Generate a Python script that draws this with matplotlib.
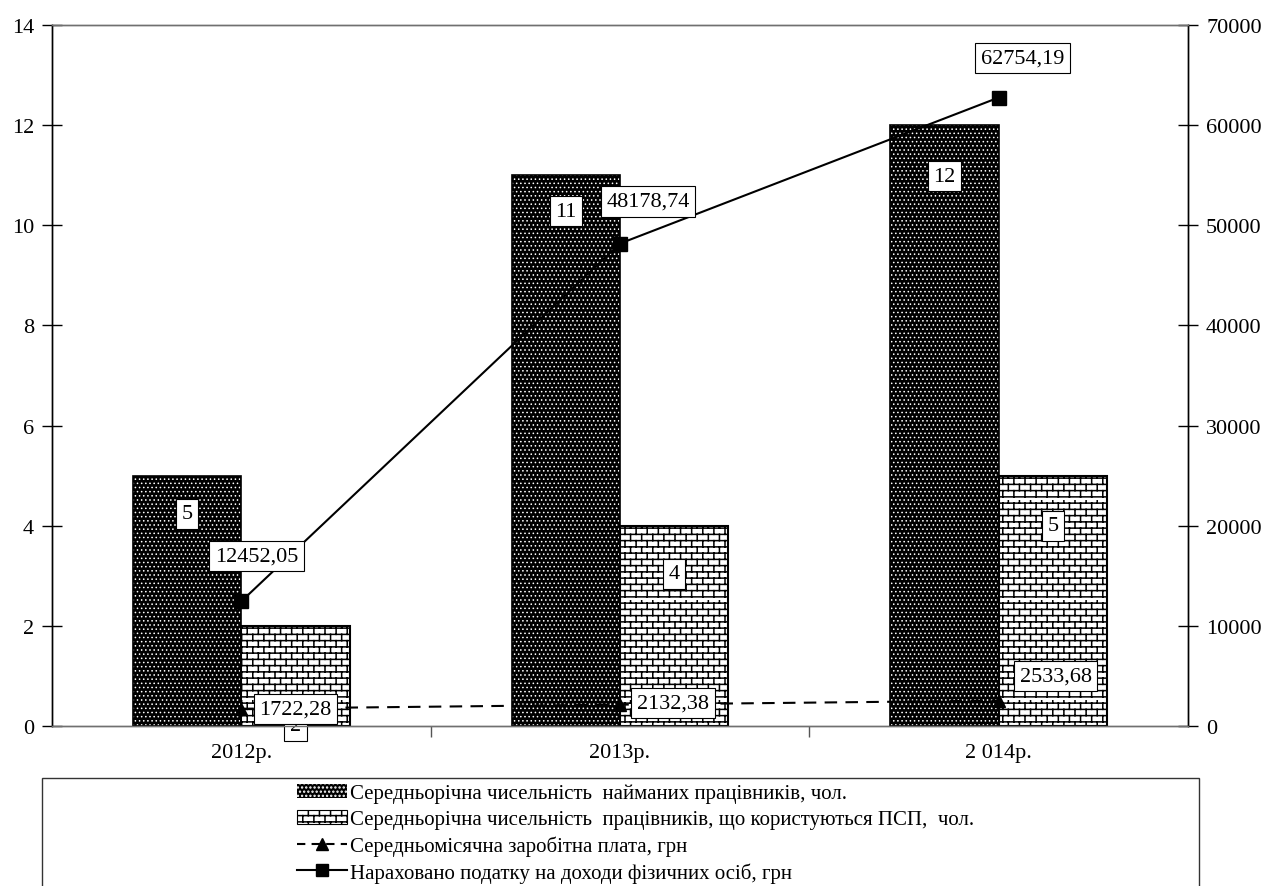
import warnings
warnings.filterwarnings('ignore')
import numpy as np
import matplotlib
matplotlib.use('Agg')
import matplotlib.pyplot as plt
import matplotlib.hatch as mhatch
from matplotlib.path import Path
from matplotlib.patches import Patch, Rectangle
from matplotlib.lines import Line2D

# ---------------- data ----------------
years = ['2012р.', '2013р.', '2 014р.']
hired_workers = [5, 11, 12]          # Середньорічна чисельність найманих працівників, чол.
psp_workers = [2, 4, 5]              # ... що користуються ПСП, чол.
avg_wage = [1722.28, 2132.38, 2533.68]          # Середньомісячна заробітна плата, грн
income_tax = [12452.05, 48178.74, 62754.19]     # Нараховано податку на доходи фізичних осіб, грн

left_ticks = [0, 2, 4, 6, 8, 10, 12, 14]
right_ticks = [0, 10000, 20000, 30000, 40000, 50000, 60000, 70000]

legend_labels = [
    'Середньорічна чисельність  найманих працівників, чол.',
    'Середньорічна чисельність  працівників, що користуються ПСП,  чол.',
    'Середньомісячна заробітна плата, грн',
    'Нараховано податку на доходи фізичних осіб, грн',
]

def fmt(v):
    return f'{v:.2f}'.replace('.', ',')

# ---------------- custom brick hatch ----------------
class BrickHatch(mhatch.HatchPatternBase):
    rows = 16
    cols = 9

    def __init__(self, hatch, density):
        self.on = 'B' in hatch
        n, m = self.rows, self.cols
        self.num_vertices = (2 * n + 2 * n * m) if self.on else 0

    def set_vertices_and_codes(self, vertices, codes):
        n, m = self.rows, self.cols
        k = 0
        for i in range(n):
            y = (i + 0.5) / n
            vertices[k] = (0.0, y); codes[k] = Path.MOVETO; k += 1
            vertices[k] = (1.0, y); codes[k] = Path.LINETO; k += 1
        for i in range(n):
            y0 = (i + 0.5) / n
            y1 = (i + 1.5) / n
            off = 0.5 if i % 2 else 0.0
            for j in range(m):
                x = (j + off + 0.25) / m
                vertices[k] = (x, y0); codes[k] = Path.MOVETO; k += 1
                vertices[k] = (x, y1); codes[k] = Path.LINETO; k += 1

mhatch._hatch_types.append(BrickHatch)

plt.rcParams['font.family'] = ['Liberation Serif', 'DejaVu Serif']
plt.rcParams['hatch.linewidth'] = 1.1

fig = plt.figure(figsize=(12.66, 8.87), dpi=100)
ax = fig.add_axes([52 / 1266, 1 - 727 / 887, (1188 - 52) / 1266, (727 - 26) / 887])
ax2 = ax.twinx()

x = np.arange(len(years))
w = 0.286

def thin_hatch(patches, lw):
    for p in patches:
        if hasattr(p, 'set_hatch_linewidth'):
            p.set_hatch_linewidth(lw)

# dark dotted bars
b1 = ax.bar(x - w / 2, hired_workers, w, color='black', edgecolor='white', linewidth=0,
            hatch='....', zorder=2)
thin_hatch(b1, 0.6)
ax.bar(x - w / 2, hired_workers, w, fill=False, edgecolor='black', linewidth=1.2, zorder=3)
# brick bars
ax.bar(x + w / 2, psp_workers, w, color='white', edgecolor='black', linewidth=0,
       hatch='B', zorder=2)
ax.bar(x + w / 2, psp_workers, w, fill=False, edgecolor='black', linewidth=1.5, zorder=3)

box = dict(boxstyle='square,pad=0.25', fc='white', ec='black', lw=0.8)
fs = 16

# bar value labels (offsets in pixels from bar top)
hired_off = [-38, -36, -51]
psp_off = [-100, -48, -50]
for xi, v, o in zip(x, hired_workers, hired_off):
    ax.annotate(str(v), (xi - w / 2, v), xytext=(0, o), textcoords='offset pixels',
                ha='center', va='center', fontsize=fs, bbox=box, zorder=5)
for xi, v, o in zip(x, psp_workers, psp_off):
    ax.annotate(str(v), (xi + w / 2, v), xytext=(0, o), textcoords='offset pixels',
                ha='center', va='center', fontsize=fs, bbox=box, zorder=5)

ax.set_xlim(-0.5, 2.5)
ax.set_ylim(0, 14)
ax.set_yticks(left_ticks)
ax.set_xticks(x)
ax.set_xticklabels(years, fontsize=fs)
ax.set_xticks([0.5, 1.5], minor=True)
ax.tick_params(axis='x', which='major', length=0, pad=12)
ax.tick_params(axis='x', which='minor', length=8, direction='out', width=1, color='#555555')
ax.tick_params(axis='y', length=14, direction='inout', width=1, pad=6, labelsize=fs)

# lines on secondary axis
ax2.plot(x, avg_wage, linestyle=(0, (6, 4)), color='black', lw=1.5,
         marker='^', markersize=9, zorder=4)
ax2.plot(x, income_tax, linestyle='-', color='black', lw=1.5,
         marker='s', markersize=10, zorder=4)
ax2.set_ylim(0, 70000)
ax2.set_yticks(right_ticks)
ax2.tick_params(axis='y', length=14, direction='inout', width=1, pad=6, labelsize=fs)

wage_off = [(54, 0), (53, 2), (57, 25)]
tax_off = [(15, 45), (28, 42), (24, 40)]
for xi, v, (dx, dy) in zip(x, avg_wage, wage_off):
    ax2.annotate(fmt(v), (xi, v), xytext=(dx, dy), textcoords='offset pixels',
                 ha='center', va='center', fontsize=fs, bbox=box, zorder=7)
for xi, v, (dx, dy) in zip(x, income_tax, tax_off):
    ax2.annotate(fmt(v), (xi, v), xytext=(dx, dy), textcoords='offset pixels',
                 ha='center', va='center', fontsize=fs, bbox=box, zorder=7)

for a in (ax, ax2):
    a.spines['top'].set_color('#707070')
    a.spines['bottom'].set_color('#707070')
    a.spines['left'].set_color('black')
    a.spines['right'].set_color('black')
    for s in a.spines.values():
        s.set_linewidth(1.0)
    a.set_facecolor('none')

# legend frame (runs past bottom of figure)
fig.patches.append(Rectangle((42 / 1266, -0.05), (1199 - 42) / 1266, 0.05 + 1 - 779 / 887,
                             transform=fig.transFigure, fill=False, ec='#333333', lw=1.0))

h1 = Patch(facecolor='black', edgecolor='white', hatch='....', linewidth=0)
thin_hatch([h1], 0.6)
handles = [
    h1,
    Patch(facecolor='white', edgecolor='black', hatch='B', linewidth=0.8),
    Line2D([], [], color='black', linestyle=(0, (4, 3)), lw=1.5, marker='^', markersize=8),
    Line2D([], [], color='black', linestyle='-', lw=1.5, marker='s', markersize=8),
]
fig.legend(handles, legend_labels, loc='upper left',
           bbox_to_anchor=(297 / 1266, 1 - 785 / 887), frameon=False,
           fontsize=15, handlelength=2.4, handleheight=0.65, handletextpad=0.15,
           labelspacing=0.3, borderaxespad=0, borderpad=0)

fig.savefig('out.png', dpi=100)
